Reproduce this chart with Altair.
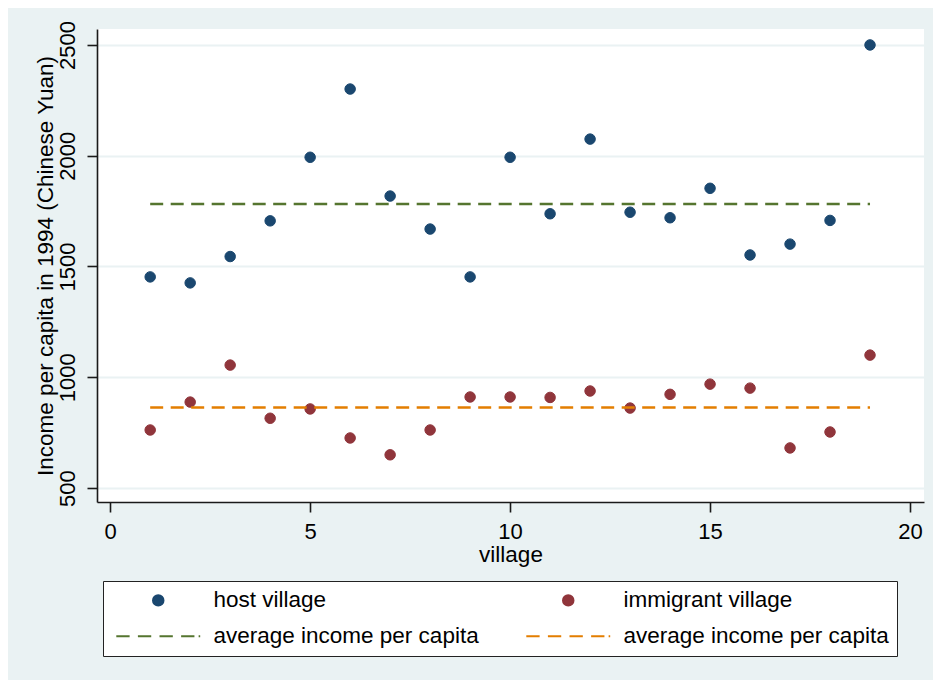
import altair as alt
import pandas as pd

# ---- data ----
villages = list(range(1, 20))
host_income = [1453, 1426, 1545, 1706, 1993, 2301, 1818, 1669, 1453, 1993,
               1738, 2075, 1745, 1720, 1853, 1552, 1601, 1708, 2500]
immigrant_income = [762, 888, 1055, 815, 857, 726, 650, 762, 911, 911,
                    909, 938, 861, 923, 969, 951, 681, 753, 1100]
avg_values = [1782, 863]
avg_start = [1, 1]
avg_end = [19, 19]

groups = ["host village", "immigrant village",
          "average income per capita", "average income per capita\u00a0\u00a0\u00a0"]
colors = ["#1A476F", "#90353B", "#55752F", "#E37E00"]
dash_path = "M-8,0H-5.46M-3.88,0H-1.34M0.24,0H2.78M4.36,0H6.9M7.7,0H8"
shapes = ["circle", "circle", dash_path, dash_path]

pts = pd.DataFrame({
    "village": villages + villages,
    "income": host_income + immigrant_income,
    "group": [groups[0]] * len(villages) + [groups[1]] * len(villages),
})
avg = pd.DataFrame({"x1": avg_start, "x2": avg_end, "avg": avg_values,
                    "group": groups[2:]})

FONT = "Liberation Sans"

x_enc = alt.X("village:Q", title="village",
              scale=alt.Scale(domain=[-0.33, 20.35], nice=False, zero=False),
              axis=alt.Axis(values=[0, 5, 10, 15, 20], grid=False,
                            format="d",
                            labelFontSize=22, titleFontSize=22.5,
                            tickSize=10, labelPadding=9,
                            titleBaseline="alphabetic", titleY=59,
                            titleAnchor="middle"))
y_enc = alt.Y("income:Q", title="Income per capita in 1994 (Chinese Yuan)",
              scale=alt.Scale(domain=[437, 2572], nice=False, zero=False),
              axis=alt.Axis(values=[500, 1000, 1500, 2000, 2500], grid=True,
                            format="d",
                            gridColor="#EAF2F3", gridWidth=2,
                            labelFontSize=22, labelAngle=270,
                            labelAlign="center", labelBaseline="middle",
                            labelPadding=20, tickSize=10,
                            titleFontSize=22.5, titleAngle=270,
                            titleAlign="center", titleBaseline="middle",
                            titleX=-52, titleY=236.5))

legend = alt.Legend(title=None, orient="none", legendX=6, legendY=552,
                    columns=2, direction="horizontal",
                    labelFontSize=22.5, labelFont=FONT, labelColor="#000000",
                    symbolSize=110, symbolStrokeWidth=2,
                    symbolOffset=36, labelOffset=44,
                    columnPadding=42, rowPadding=13, padding=8,
                    strokeColor="#222222", fillColor="#FFFFFF",
                    labelLimit=420)

points = alt.Chart(pts).mark_point(filled=True, size=110, strokeWidth=1,
                                   opacity=1).encode(
    x=x_enc,
    y=y_enc,
    fill=alt.Fill("group:N", scale=alt.Scale(domain=groups, range=colors),
                  legend=legend),
    stroke=alt.Stroke("group:N", scale=alt.Scale(domain=groups, range=colors),
                      legend=legend),
    shape=alt.Shape("group:N", scale=alt.Scale(domain=groups, range=shapes),
                    legend=legend),
)

rules = []
for i in range(2):
    rules.append(
        alt.Chart(avg.iloc[[i]]).mark_rule(strokeDash=[13, 7.5],
                                           strokeWidth=2.5,
                                           color=colors[2 + i]).encode(
            x=alt.X("x1:Q"), x2="x2:Q", y=alt.Y("avg:Q")))

chart = alt.layer(points, *rules).properties(
    width=827, height=473,
    autosize=alt.AutoSizeParams(type="none"),
    padding={"left": 89, "top": 21, "right": 9, "bottom": 178},
).configure(
    background="#EAF2F3", font=FONT
).configure_view(
    fill="#FFFFFF", stroke=None
).configure_axis(
    domainColor="#1a1a1a", domainWidth=1.6, tickColor="#1a1a1a",
    tickWidth=1.6, labelColor="#000000", titleColor="#000000",
    labelFont=FONT, titleFont=FONT, titleFontWeight="normal"
)

chart.save("out.html", embed_options={"renderer": "svg", "actions": False})
